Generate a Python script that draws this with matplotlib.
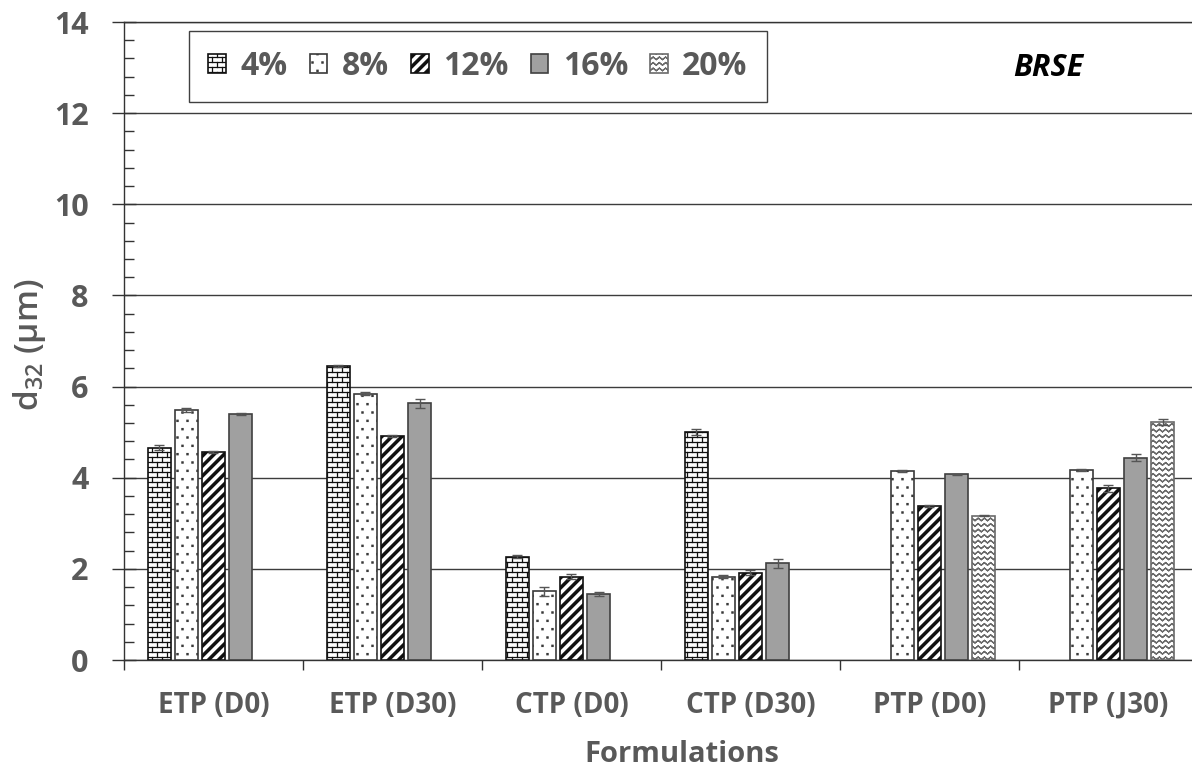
import numpy as np
import matplotlib
matplotlib.use("Agg")
import matplotlib.pyplot as plt
import matplotlib.hatch as mhatch
from matplotlib.path import Path
from matplotlib.ticker import MultipleLocator, FixedLocator, NullFormatter

# ---------------- data ----------------
categories = ["ETP (D0)", "ETP (D30)", "CTP (D0)", "CTP (D30)", "PTP (D0)", "PTP (J30)"]
series = ["4%", "8%", "12%", "16%", "20%"]
nan = np.nan
v4 = [4.66, 6.45, 2.27, 5.00, nan, nan]
v8 = [5.49, 5.84, 1.51, 1.83, 4.15, 4.17]
v12 = [4.57, 4.92, 1.83, 1.92, 3.38, 3.77]
v16 = [5.40, 5.63, 1.45, 2.12, 4.08, 4.44]
v20 = [nan, nan, nan, nan, 3.17, 5.22]
e4 = [0.05, 0.02, 0.04, 0.06, nan, nan]
e8 = [0.04, 0.03, 0.10, 0.04, 0.03, 0.03]
e12 = [0.02, 0.02, 0.06, 0.05, 0.02, 0.08]
e16 = [0.02, 0.09, 0.04, 0.10, 0.01, 0.07]
e20 = [nan, nan, nan, nan, 0.02, 0.06]
yticks = [0, 2, 4, 6, 8, 10, 12, 14]
values = [v4, v8, v12, v16, v20]
errors = [e4, e8, e12, e16, e20]


# ---------------- custom hatch patterns ----------------
class BrickHatch(mhatch.HatchPatternBase):
    rows, cols = 20, 10

    def __init__(self, hatch, density):
        self.num_vertices = (2 * self.rows + 2 * (self.rows + 1) * self.cols) if 'b' in hatch else 0

    def set_vertices_and_codes(self, vertices, codes):
        v = []
        R, C = self.rows, self.cols
        for k in range(R):
            y = (k + 0.5) / R
            v += [(0.0, y), (1.0, y)]
        for k in range(R + 1):
            y0, y1 = (k - 0.5) / R, (k + 0.5) / R
            off = 0.5 * (k % 2)
            for j in range(C):
                xx = (j + off + 0.25) / C
                v += [(xx, y0), (xx, y1)]
        vertices[:] = np.array(v)
        codes[0::2] = Path.MOVETO
        codes[1::2] = Path.LINETO


class DotHatch(mhatch.HatchPatternBase):
    rows, cols, s = 12, 10, 0.006

    def __init__(self, hatch, density):
        self.num_vertices = self.rows * self.cols * 5 if 'd' in hatch else 0

    def set_vertices_and_codes(self, vertices, codes):
        v = []
        s = self.s
        for k in range(self.rows):
            cy = (k + 0.5) / self.rows
            off = 0.5 * (k % 2)
            for j in range(self.cols):
                cx = (j + off + 0.25) / self.cols
                v += [(cx - s, cy - s), (cx + s, cy - s), (cx + s, cy + s), (cx - s, cy + s), (cx - s, cy - s)]
        vertices[:] = np.array(v)
        codes[:] = Path.LINETO
        codes[0::5] = Path.MOVETO
        codes[4::5] = Path.CLOSEPOLY


class StripeHatch(mhatch.HatchPatternBase):
    n, t = 10, 0.032

    def __init__(self, hatch, density):
        self.num_vertices = (2 * self.n + 1) * 5 if 's' in hatch else 0

    def set_vertices_and_codes(self, vertices, codes):
        v = []
        t = self.t
        for k in range(-self.n, self.n + 1):
            c = k / self.n
            v += [(-0.1, -0.1 + c), (1.1, 1.1 + c), (1.1, 1.1 + c + t), (-0.1, -0.1 + c + t), (-0.1, -0.1 + c)]
        vertices[:] = np.array(v)
        codes[:] = Path.LINETO
        codes[0::5] = Path.MOVETO
        codes[4::5] = Path.CLOSEPOLY


class ZigzagHatch(mhatch.HatchPatternBase):
    rows, waves, amp = 18, 16, 0.013

    def __init__(self, hatch, density):
        self.per_row = 4 * self.waves + 1
        self.num_vertices = self.rows * self.per_row if 'z' in hatch else 0

    def set_vertices_and_codes(self, vertices, codes):
        v = []
        W = self.waves
        for k in range(self.rows):
            yc = (k + 0.5) / self.rows
            fwd = []
            for i in range(2 * W + 1):
                xx = i / (2 * W)
                yy = yc + (self.amp if i % 2 else -self.amp)
                fwd.append((xx, yy))
            v += fwd + fwd[-2::-1]
        vertices[:] = np.array(v)
        codes[:] = Path.LINETO
        codes[0::self.per_row] = Path.MOVETO


mhatch._hatch_types.extend([BrickHatch, DotHatch, StripeHatch, ZigzagHatch])
mhatch._validate_hatch_pattern = lambda hatch: None

# ---------------- style ----------------
plt.rcParams['font.family'] = ['Open Sans', 'DejaVu Sans']
plt.rcParams['hatch.linewidth'] = 0.9
plt.rcParams['mathtext.default'] = 'regular'
TXT = '#595959'

fig = plt.figure(figsize=(11.92, 7.76), dpi=100)
ax = fig.add_axes([124 / 1192, 1 - 660 / 776, (1198 - 124) / 1192, (660 - 22) / 776])

hatches = ['b', 'd', 's', '', 'z']
faces = ['white', 'white', 'white', '#A0A0A0', 'white']
edges = ['#111111', '#3a3a3a', '#111111', '#404040', '#6a6a6a']

x = np.arange(len(categories))
pitch, width = 0.151, 0.128
handles = []
for j, (vals, errs) in enumerate(zip(values, errors)):
    xpos = x + (j - 2) * pitch
    bc = ax.bar(xpos, vals, width=width, color=faces[j], edgecolor=edges[j],
                hatch=hatches[j], linewidth=1.2, label=series[j], zorder=3)
    handles.append(bc)
    ax.errorbar(xpos, vals, yerr=errs, fmt='none', ecolor='#555555',
                elinewidth=1.0, capsize=3.5, capthick=1.0, zorder=4)

# axes
ax.set_xlim(-0.5, len(categories) - 0.5)
ax.set_ylim(0, 14)
ax.set_yticks(yticks)
ax.yaxis.set_minor_locator(MultipleLocator(0.4))
ax.yaxis.grid(True, which='major', color='#3c3c3c', linewidth=1.0, zorder=0)
ax.set_axisbelow(True)
ax.tick_params(axis='y', which='major', direction='inout', length=17, width=1.0,
               color='#333333', pad=17, labelsize=22, labelcolor=TXT)
ax.tick_params(axis='y', which='minor', direction='in', length=7, width=1.0, color='#333333')
for lab in ax.get_yticklabels():
    lab.set_fontweight('bold')

ax.xaxis.set_major_locator(FixedLocator(np.arange(-0.5, len(categories) + 0.5, 1.0)))
ax.xaxis.set_major_formatter(NullFormatter())
ax.xaxis.set_minor_locator(FixedLocator(x))
ax.set_xticklabels(categories, minor=True, fontsize=20, fontweight='bold', color=TXT)
ax.tick_params(axis='x', which='major', direction='out', length=7, width=1.0, color='#333333')
ax.tick_params(axis='x', which='minor', length=0, pad=22)

for side in ['left', 'bottom', 'top']:
    ax.spines[side].set_color('#333333')
    ax.spines[side].set_linewidth(1.0)
ax.spines['right'].set_visible(False)

leg = ax.legend(handles=handles, labels=series, ncol=5, loc='upper left',
                bbox_to_anchor=(0.0605, 0.986), borderaxespad=0, frameon=True,
                fancybox=False, framealpha=1, edgecolor='#404040',
                prop={'family': 'Open Sans', 'weight': 'bold', 'size': 23},
                handlelength=0.55, handleheight=0.55, handletextpad=0.45,
                columnspacing=0.7, borderpad=0.6)
for t in leg.get_texts():
    t.set_color(TXT)
leg.get_frame().set_linewidth(1.0)

fig.text(682 / 1192, 1 - 755 / 776, 'Formulations', ha='center', va='center',
         fontsize=21, fontweight='bold', color=TXT)
fig.text(29 / 1192, 1 - 345 / 776, 'd$_{32}$ (µm)', ha='center', va='center',
         rotation=90, fontsize=24, fontweight='semibold', color=TXT)
fig.text(1048 / 1192, 1 - 68 / 776, 'BRSE', ha='center', va='center',
         fontsize=22, fontweight='bold', fontstyle='italic', color='black')

fig.savefig('out.png', dpi=100)
